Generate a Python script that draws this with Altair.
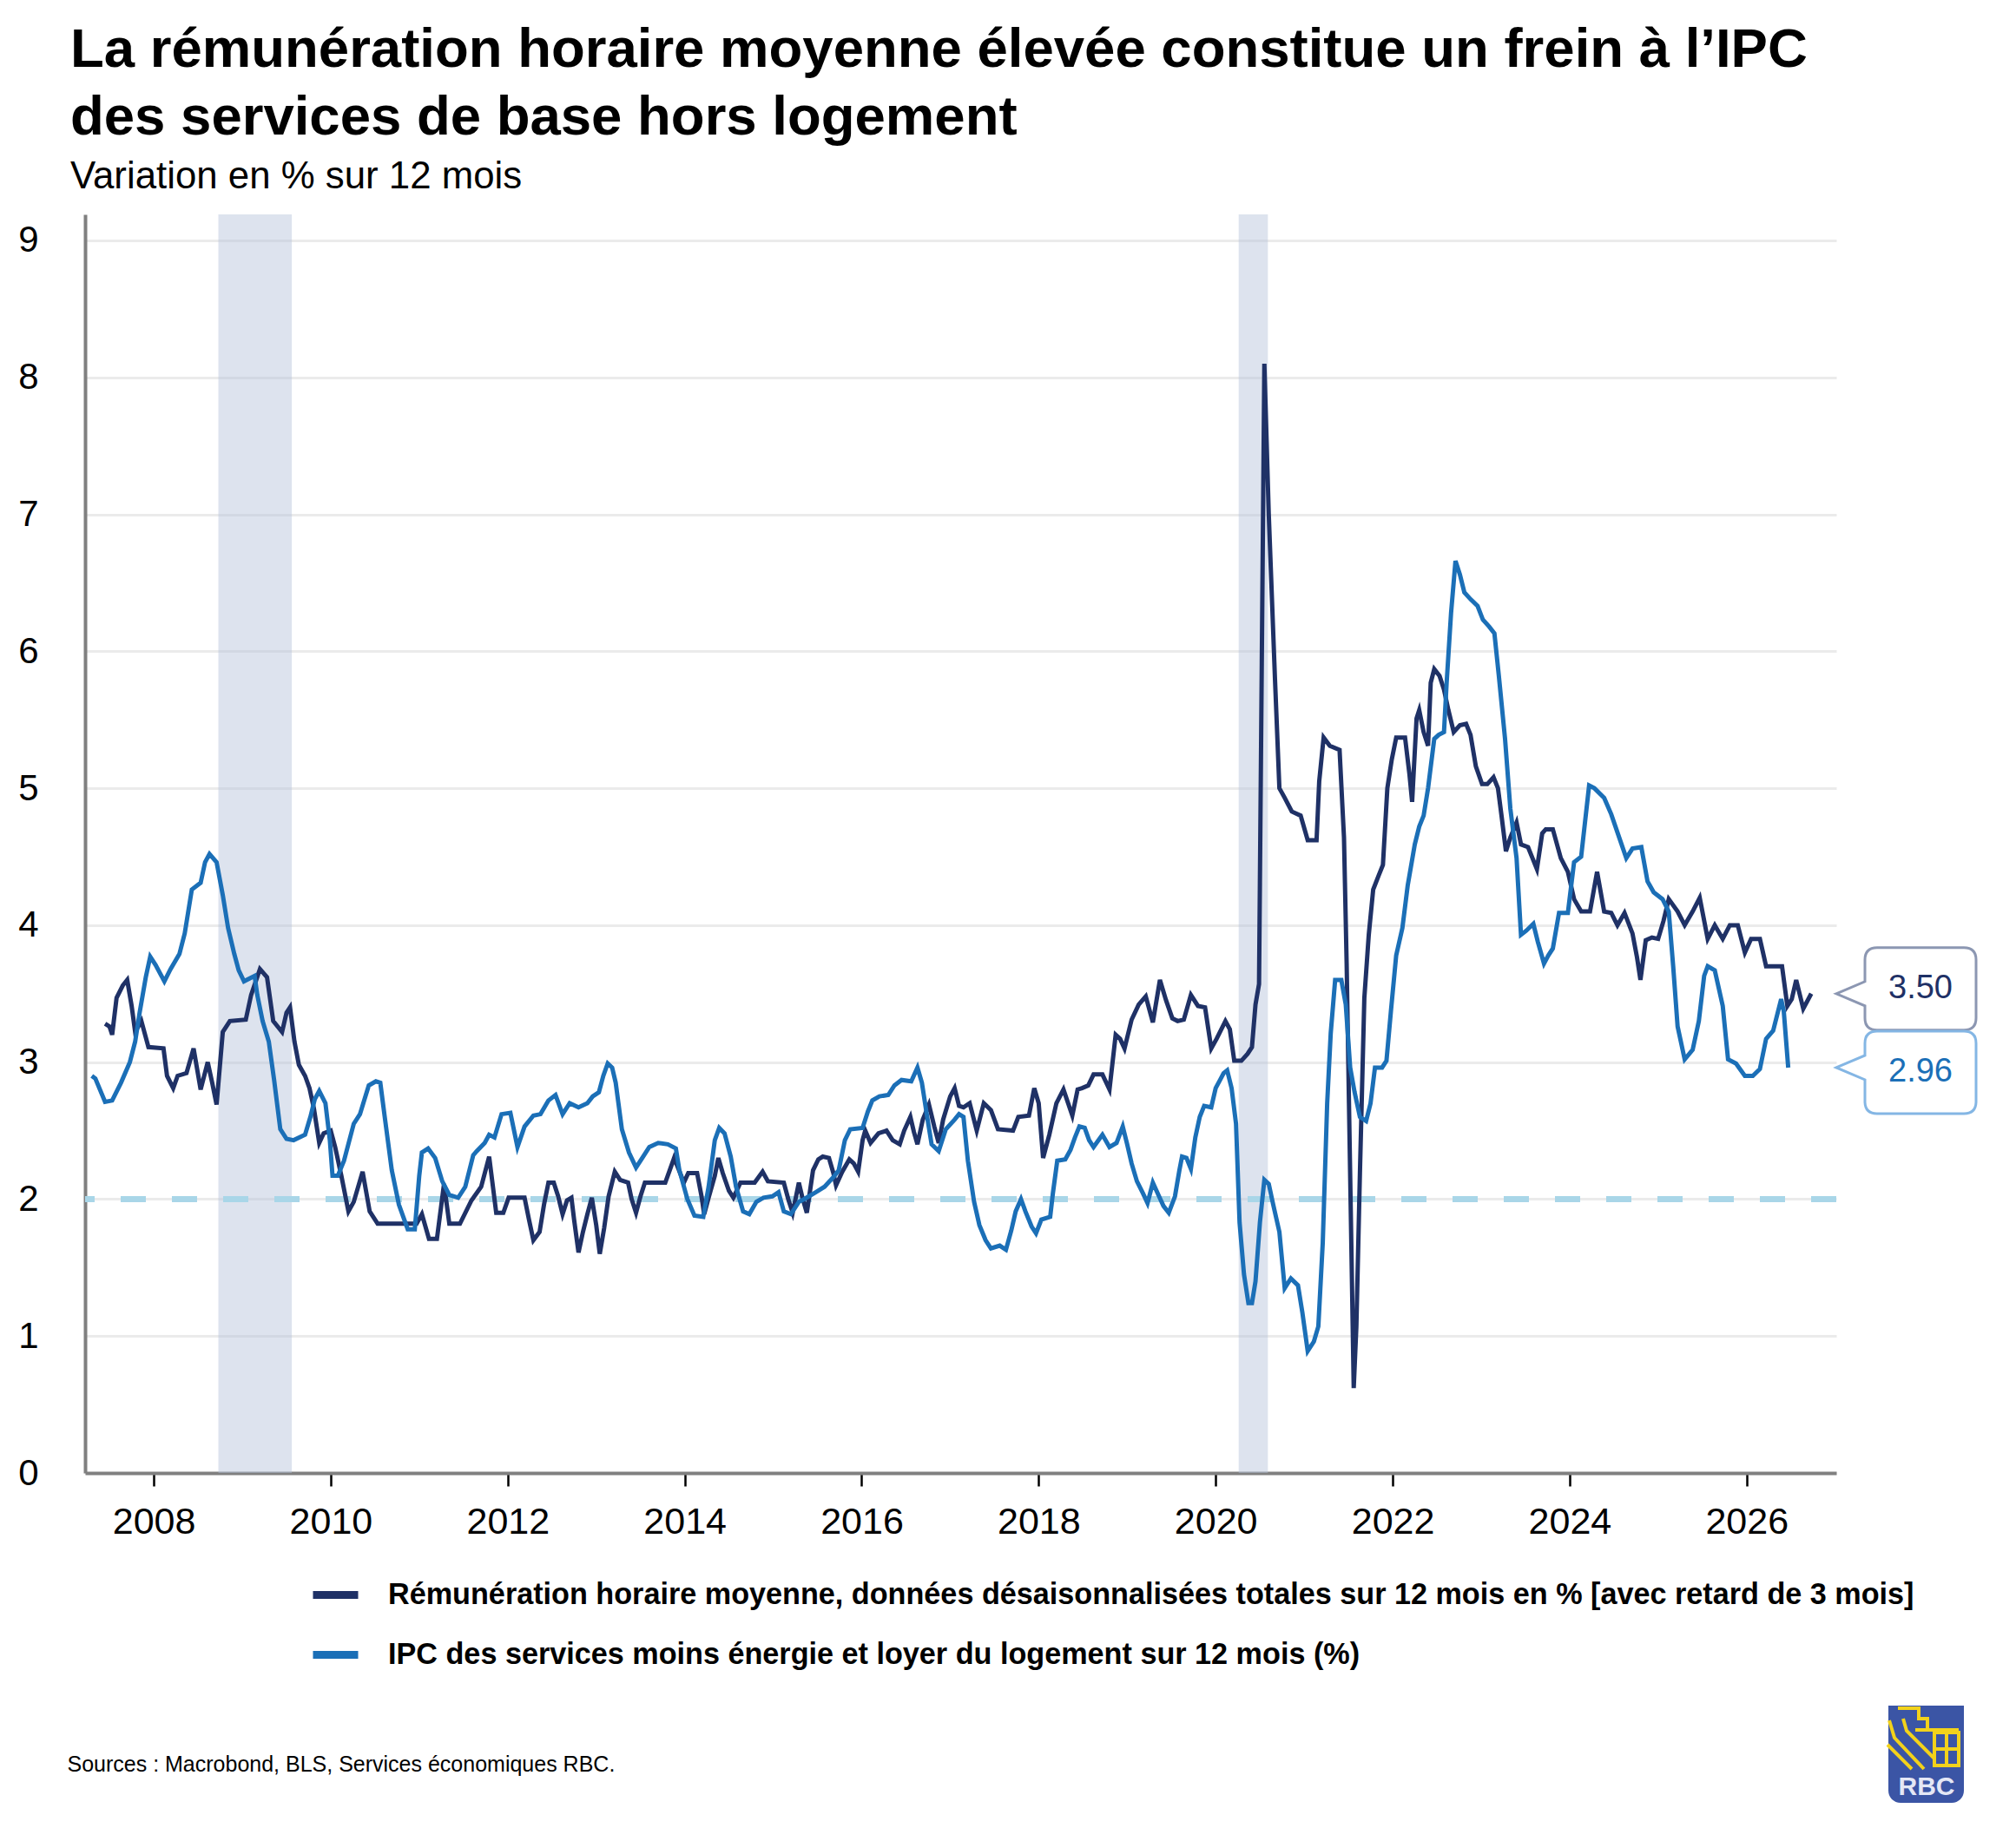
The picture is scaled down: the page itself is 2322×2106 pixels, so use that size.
import altair as alt
import pandas as pd

# %%
# values (decimal years, % y/y)
wage_t = [2007.45, 2007.50, 2007.53, 2007.58, 2007.65, 2007.70, 2007.75, 2007.79, 2007.86, 2007.94,
          2008.11, 2008.15, 2008.22, 2008.27, 2008.37, 2008.45, 2008.53, 2008.61, 2008.66, 2008.71,
          2008.78, 2008.86, 2009.04, 2009.10, 2009.20, 2009.28, 2009.35, 2009.45, 2009.50, 2009.54,
          2009.59, 2009.64, 2009.71, 2009.76, 2009.81, 2009.87, 2009.92, 2010.00, 2010.05, 2010.12,
          2010.20, 2010.26, 2010.36, 2010.44, 2010.53, 2010.97, 2011.03, 2011.11, 2011.20, 2011.28,
          2011.34, 2011.46, 2011.59, 2011.70, 2011.79, 2011.87, 2011.95, 2012.01, 2012.19, 2012.24,
          2012.29, 2012.36, 2012.41, 2012.46, 2012.52, 2012.57, 2012.62, 2012.67, 2012.72, 2012.75,
          2012.80, 2012.85, 2012.90, 2012.95, 2013.00, 2013.04, 2013.09, 2013.14, 2013.21, 2013.27,
          2013.36, 2013.40, 2013.45, 2013.50, 2013.55, 2013.78, 2013.83, 2013.88, 2013.93, 2013.99,
          2014.04, 2014.14, 2014.19, 2014.22, 2014.27, 2014.34, 2014.38, 2014.43, 2014.50, 2014.55,
          2014.63, 2014.79, 2014.88, 2014.94, 2015.12, 2015.17, 2015.22, 2015.29, 2015.33, 2015.38,
          2015.45, 2015.51, 2015.56, 2015.63, 2015.68, 2015.71, 2015.78, 2015.86, 2015.91, 2015.96,
          2016.01, 2016.04, 2016.10, 2016.19, 2016.28, 2016.35, 2016.43, 2016.48, 2016.55, 2016.59,
          2016.63, 2016.69, 2016.76, 2016.82, 2016.87, 2016.92, 2017.00, 2017.05, 2017.10, 2017.15,
          2017.22, 2017.30, 2017.38, 2017.46, 2017.54, 2017.71, 2017.77, 2017.89, 2017.95, 2018.00,
          2018.05, 2018.12, 2018.20, 2018.28, 2018.38, 2018.44, 2018.49, 2018.56, 2018.62, 2018.72,
          2018.80, 2018.87, 2018.92, 2018.97, 2019.05, 2019.13, 2019.21, 2019.29, 2019.37, 2019.44,
          2019.51, 2019.57, 2019.64, 2019.72, 2019.80, 2019.88, 2019.95, 2020.01, 2020.11, 2020.16,
          2020.21, 2020.29, 2020.36, 2020.41, 2020.45, 2020.49, 2020.55, 2020.60, 2020.67, 2020.72,
          2020.78, 2020.86, 2020.96, 2021.04, 2021.14, 2021.17, 2021.22, 2021.29, 2021.40, 2021.45,
          2021.48, 2021.56, 2021.59, 2021.63, 2021.68, 2021.73, 2021.78, 2021.84, 2021.89, 2021.94,
          2021.99, 2022.04, 2022.14, 2022.19, 2022.22, 2022.27, 2022.30, 2022.35, 2022.40, 2022.43,
          2022.47, 2022.53, 2022.58, 2022.63, 2022.69, 2022.76, 2022.83, 2022.88, 2022.94, 2023.01,
          2023.07, 2023.14, 2023.19, 2023.23, 2023.28, 2023.33, 2023.40, 2023.45, 2023.53, 2023.58,
          2023.63, 2023.69, 2023.73, 2023.81, 2023.90, 2023.98, 2024.05, 2024.13, 2024.23, 2024.31,
          2024.39, 2024.47, 2024.54, 2024.62, 2024.71, 2024.76, 2024.80, 2024.86, 2024.93, 2025.00,
          2025.06, 2025.12, 2025.22, 2025.30, 2025.39, 2025.47, 2025.56, 2025.64, 2025.73, 2025.81,
          2025.90, 2025.98, 2026.05, 2026.15, 2026.22, 2026.40, 2026.46, 2026.51, 2026.56, 2026.64,
          2026.73]
wage_v = [3.28, 3.26, 3.20, 3.47, 3.56, 3.60, 3.41, 3.22, 3.30, 3.11,
          3.10, 2.90, 2.81, 2.90, 2.92, 3.10, 2.80, 3.00, 2.85, 2.69,
          3.22, 3.30, 3.31, 3.49, 3.68, 3.62, 3.30, 3.22, 3.36, 3.40,
          3.15, 2.98, 2.90, 2.81, 2.66, 2.41, 2.48, 2.50, 2.38, 2.17,
          1.91, 1.98, 2.20, 1.91, 1.82, 1.82, 1.89, 1.71, 1.71, 2.11,
          1.82, 1.82, 1.99, 2.09, 2.31, 1.90, 1.90, 2.01, 2.01, 1.85,
          1.70, 1.76, 1.96, 2.12, 2.12, 2.02, 1.89, 1.99, 2.01, 1.85,
          1.61, 1.76, 1.89, 2.01, 1.81, 1.60, 1.79, 2.02, 2.20, 2.14,
          2.12, 2.00, 1.90, 2.02, 2.12, 2.12, 2.21, 2.30, 2.22, 2.12,
          2.19, 2.19, 2.02, 1.89, 2.01, 2.17, 2.30, 2.19, 2.06, 2.01,
          2.12, 2.12, 2.20, 2.13, 2.12, 2.00, 1.90, 2.12, 2.01, 1.90,
          2.21, 2.29, 2.31, 2.30, 2.19, 2.10, 2.20, 2.29, 2.26, 2.20,
          2.43, 2.50, 2.41, 2.48, 2.50, 2.43, 2.40, 2.50, 2.60, 2.49,
          2.40, 2.58, 2.69, 2.53, 2.41, 2.58, 2.75, 2.81, 2.68, 2.67,
          2.70, 2.50, 2.70, 2.65, 2.51, 2.50, 2.60, 2.61, 2.81, 2.70,
          2.30, 2.47, 2.70, 2.80, 2.61, 2.80, 2.81, 2.83, 2.91, 2.91,
          2.80, 3.20, 3.17, 3.10, 3.31, 3.42, 3.48, 3.29, 3.60, 3.45,
          3.32, 3.30, 3.31, 3.49, 3.41, 3.40, 3.10, 3.17, 3.30, 3.24,
          3.01, 3.01, 3.06, 3.11, 3.42, 3.57, 8.10, 7.00, 5.80, 5.00,
          4.93, 4.83, 4.80, 4.62, 4.62, 5.05, 5.37, 5.31, 5.28, 4.64,
          3.72, 0.62, 1.07, 2.19, 3.47, 3.93, 4.26, 4.36, 4.44, 5.00,
          5.21, 5.37, 5.37, 5.10, 4.90, 5.51, 5.57, 5.41, 5.31, 5.77,
          5.87, 5.82, 5.72, 5.57, 5.41, 5.46, 5.47, 5.39, 5.16, 5.03,
          5.03, 5.08, 5.00, 4.80, 4.54, 4.64, 4.75, 4.59, 4.57, 4.49,
          4.41, 4.67, 4.70, 4.70, 4.49, 4.39, 4.19, 4.10, 4.10, 4.39,
          4.10, 4.09, 4.00, 4.09, 3.94, 3.77, 3.60, 3.89, 3.91, 3.90,
          4.03, 4.19, 4.10, 4.00, 4.10, 4.20, 3.90, 4.00, 3.90, 4.00,
          4.00, 3.80, 3.90, 3.90, 3.70, 3.70, 3.41, 3.46, 3.60, 3.39,
          3.50]

cpi_t = [2007.30, 2007.34, 2007.45, 2007.53, 2007.63, 2007.73, 2007.79, 2007.84, 2007.91, 2007.96,
         2008.02, 2008.12, 2008.19, 2008.29, 2008.35, 2008.43, 2008.53, 2008.58, 2008.63, 2008.71,
         2008.78, 2008.84, 2008.91, 2008.96, 2009.02, 2009.14, 2009.17, 2009.23, 2009.30, 2009.36,
         2009.43, 2009.50, 2009.58, 2009.71, 2009.77, 2009.82, 2009.87, 2009.94, 2009.99, 2010.02,
         2010.08, 2010.15, 2010.26, 2010.33, 2010.43, 2010.51, 2010.56, 2010.61, 2010.69, 2010.77,
         2010.87, 2010.95, 2011.00, 2011.03, 2011.10, 2011.18, 2011.26, 2011.34, 2011.44, 2011.52,
         2011.61, 2011.65, 2011.74, 2011.79, 2011.85, 2011.93, 2012.03, 2012.11, 2012.19, 2012.29,
         2012.37, 2012.46, 2012.54, 2012.62, 2012.70, 2012.80, 2012.90, 2012.96, 2013.03, 2013.08,
         2013.13, 2013.18, 2013.22, 2013.29, 2013.37, 2013.45, 2013.52, 2013.60, 2013.70, 2013.81,
         2013.90, 2013.94, 2014.03, 2014.11, 2014.21, 2014.27, 2014.34, 2014.39, 2014.45, 2014.52,
         2014.58, 2014.66, 2014.73, 2014.81, 2014.89, 2014.99, 2015.06, 2015.12, 2015.20, 2015.29,
         2015.35, 2015.48, 2015.58, 2015.68, 2015.74, 2015.81, 2015.87, 2016.01, 2016.07, 2016.12,
         2016.20, 2016.30, 2016.37, 2016.45, 2016.56, 2016.63, 2016.68, 2016.74, 2016.79, 2016.87,
         2016.95, 2017.05, 2017.10, 2017.15, 2017.20, 2017.27, 2017.33, 2017.40, 2017.46, 2017.56,
         2017.63, 2017.69, 2017.74, 2017.80, 2017.85, 2017.92, 2017.97, 2018.03, 2018.13, 2018.16,
         2018.21, 2018.30, 2018.36, 2018.41, 2018.46, 2018.52, 2018.57, 2018.62, 2018.72, 2018.80,
         2018.88, 2018.95, 2019.00, 2019.05, 2019.11, 2019.18, 2019.23, 2019.29, 2019.36, 2019.41,
         2019.47, 2019.54, 2019.59, 2019.62, 2019.67, 2019.72, 2019.77, 2019.82, 2019.87, 2019.95,
         2020.00, 2020.05, 2020.09, 2020.13, 2020.18, 2020.23, 2020.27, 2020.32, 2020.37, 2020.41,
         2020.45, 2020.50, 2020.55, 2020.60, 2020.65, 2020.72, 2020.78, 2020.85, 2020.93, 2020.98,
         2021.04, 2021.11, 2021.16, 2021.21, 2021.26, 2021.30, 2021.35, 2021.42, 2021.47, 2021.52,
         2021.57, 2021.63, 2021.70, 2021.75, 2021.80, 2021.88, 2021.93, 2021.98, 2022.04, 2022.11,
         2022.17, 2022.25, 2022.30, 2022.35, 2022.40, 2022.47, 2022.52, 2022.58, 2022.61, 2022.66,
         2022.71, 2022.76, 2022.81, 2022.88, 2022.96, 2023.02, 2023.09, 2023.15, 2023.20, 2023.27,
         2023.33, 2023.40, 2023.45, 2023.51, 2023.59, 2023.64, 2023.71, 2023.76, 2023.81, 2023.88,
         2023.98, 2024.05, 2024.13, 2024.22, 2024.28, 2024.39, 2024.47, 2024.56, 2024.64, 2024.71,
         2024.81, 2024.88, 2024.95, 2025.05, 2025.12, 2025.17, 2025.22, 2025.30, 2025.39, 2025.46,
         2025.52, 2025.56, 2025.64, 2025.73, 2025.79, 2025.88, 2025.98, 2026.07, 2026.15, 2026.22,
         2026.30, 2026.39, 2026.42, 2026.47]
cpi_v = [2.90, 2.88, 2.71, 2.72, 2.85, 3.00, 3.15, 3.36, 3.62, 3.77,
         3.71, 3.59, 3.68, 3.79, 3.94, 4.26, 4.31, 4.46, 4.52, 4.46,
         4.22, 3.98, 3.79, 3.67, 3.59, 3.63, 3.49, 3.30, 3.15, 2.87,
         2.51, 2.44, 2.43, 2.47, 2.60, 2.73, 2.79, 2.70, 2.43, 2.17,
         2.17, 2.28, 2.55, 2.62, 2.83, 2.86, 2.85, 2.60, 2.21, 1.96,
         1.78, 1.78, 2.17, 2.34, 2.37, 2.30, 2.13, 2.03, 2.01, 2.09,
         2.32, 2.35, 2.41, 2.47, 2.45, 2.62, 2.63, 2.38, 2.53, 2.61,
         2.62, 2.72, 2.76, 2.62, 2.70, 2.67, 2.70, 2.75, 2.78, 2.90,
         2.99, 2.96, 2.85, 2.51, 2.34, 2.23, 2.30, 2.38, 2.41, 2.40,
         2.37, 2.21, 2.00, 1.88, 1.87, 2.09, 2.43, 2.52, 2.48, 2.31,
         2.09, 1.91, 1.89, 1.98, 2.01, 2.02, 2.05, 1.91, 1.89, 1.98,
         2.00, 2.05, 2.09, 2.16, 2.21, 2.43, 2.51, 2.52, 2.64, 2.72,
         2.75, 2.76, 2.83, 2.87, 2.86, 2.96, 2.85, 2.60, 2.40, 2.35,
         2.51, 2.58, 2.62, 2.60, 2.28, 1.98, 1.81, 1.70, 1.64, 1.66,
         1.63, 1.77, 1.91, 2.00, 1.91, 1.80, 1.75, 1.85, 1.87, 2.04,
         2.28, 2.29, 2.36, 2.45, 2.53, 2.52, 2.43, 2.38, 2.47, 2.38,
         2.41, 2.53, 2.40, 2.26, 2.13, 2.04, 1.97, 2.12, 2.02, 1.95,
         1.90, 2.02, 2.21, 2.31, 2.30, 2.22, 2.45, 2.60, 2.68, 2.67,
         2.81, 2.87, 2.92, 2.94, 2.81, 2.55, 1.83, 1.45, 1.24, 1.24,
         1.40, 1.83, 2.14, 2.11, 1.96, 1.76, 1.35, 1.42, 1.37, 1.17,
         0.89, 0.96, 1.07, 1.68, 2.70, 3.21, 3.60, 3.60, 3.42, 2.96,
         2.78, 2.60, 2.57, 2.70, 2.96, 2.96, 3.01, 3.37, 3.78, 3.98,
         4.29, 4.59, 4.72, 4.80, 5.00, 5.36, 5.39, 5.41, 5.77, 6.28,
         6.66, 6.56, 6.43, 6.38, 6.33, 6.23, 6.18, 6.13, 5.82, 5.36,
         4.85, 4.49, 3.93, 3.96, 4.01, 3.88, 3.72, 3.78, 3.83, 4.09,
         4.09, 4.46, 4.50, 5.02, 5.00, 4.93, 4.81, 4.64, 4.49, 4.56,
         4.57, 4.32, 4.24, 4.19, 4.10, 3.70, 3.26, 3.02, 3.09, 3.30,
         3.63, 3.70, 3.67, 3.41, 3.02, 2.99, 2.90, 2.90, 2.95, 3.17,
         3.23, 3.46, 3.37, 2.96]

WAGE = "Rémunération horaire moyenne, données désaisonnalisées totales sur 12 mois en % [avec retard de 3 mois]"
CPI = "IPC des services moins énergie et loyer du logement sur 12 mois (%)"

# shaded recessions
rec_start = [2008.73, 2020.26]
rec_end = [2009.56, 2020.59]

# latest values shown in the boxes on the right
end_text = ["3.50", "2.96"]
end_value = [3.50, 2.96]

year_ticks = [2008, 2010, 2012, 2014, 2016, 2018, 2020, 2022, 2024, 2026]
pct_ticks = [0, 1, 2, 3, 4, 5, 6, 7, 8, 9]
target = [2.0]

X_MIN, X_MAX = 2007.224, 2027.013
Y_MAX = 9.19

NAVY = "#1f3166"
BLUE = "#1b6fb7"
FONT = "Liberation Sans"

# %%
lines_df = pd.concat([
    pd.DataFrame({"t": wage_t, "v": wage_v, "series": WAGE}),
    pd.DataFrame({"t": cpi_t, "v": cpi_v, "series": CPI}),
])
rec_df = pd.DataFrame({"start": rec_start, "end": rec_end})

x_scale = alt.Scale(domain=[X_MIN, X_MAX], nice=False, zero=False)
y_scale = alt.Scale(domain=[0, Y_MAX], nice=False)

x_axis = alt.Axis(values=year_ticks, format="d", grid=False,
                  title="Sources : Macrobond, BLS, Services économiques RBC.",
                  titleAnchor="start", titleAlign="left", titleBaseline="alphabetic",
                  titleX=-21, titleY=343, titleFontSize=25, titleFontWeight="normal",
                  titleFont=FONT, titleColor="#000000")
y_axis = alt.Axis(values=pct_ticks, title=None, grid=True, ticks=False, tickSize=0)

bands = alt.Chart(rec_df).mark_rect(color="#b3c2d9", opacity=0.45).encode(
    x=alt.X("start:Q", scale=x_scale, axis=x_axis),
    x2="end:Q",
)

two_pct = alt.Chart(pd.DataFrame({"v": target})).mark_rule(
    color="#a9d6e8", strokeWidth=7, strokeDash=[29, 30]
).encode(y=alt.Y("v:Q", scale=y_scale, axis=y_axis))

lines = alt.Chart(lines_df).mark_line(strokeWidth=5).encode(
    x=alt.X("t:Q", scale=x_scale, axis=x_axis),
    y=alt.Y("v:Q", scale=y_scale, axis=y_axis),
    color=alt.Color("series:N",
                    scale=alt.Scale(domain=[WAGE, CPI], range=[NAVY, BLUE]),
                    legend=alt.Legend(title=None, orient="none", legendX=258, legendY=1560,
                                      direction="vertical", padding=0,
                                      symbolType="stroke", symbolSize=2704, symbolStrokeWidth=9,
                                      labelFont=FONT, labelFontSize=34.2, labelFontWeight="bold",
                                      labelColor="#000000", labelLimit=2000, labelOffset=30,
                                      rowPadding=20)),
    order="t:Q",
)

# callout boxes: pointer tip sits on the right edge at the latest value
box_paths = [
    "M0,0 L33,-14 L33,-39 Q33,-53 47,-53 L147,-53 Q161,-53 161,-39 L161,28 Q161,42 147,42 "
    "L47,42 Q33,42 33,28 L33,14 Z",
    "M0,0 L33,-14 L33,-28 Q33,-42 47,-42 L147,-42 Q161,-42 161,-28 L161,39 Q161,53 147,53 "
    "L47,53 Q33,53 33,39 L33,14 Z",
]
box_strokes = ["#8c97b2", "#84b6e4"]
text_colors = [NAVY, BLUE]
text_dy = [-6, 5]

callouts = []
for txt, val, path, stroke, fg, dy in zip(end_text, end_value, box_paths, box_strokes, text_colors, text_dy):
    df = pd.DataFrame({"t": [X_MAX], "v": [val]})
    enc = dict(x=alt.X("t:Q", scale=x_scale, axis=x_axis), y=alt.Y("v:Q", scale=y_scale, axis=y_axis))
    callouts.append(alt.Chart(df).mark_point(shape=path, size=4, filled=True, fill="white",
                                             stroke=stroke, strokeWidth=3, opacity=1).encode(**enc))
    callouts.append(alt.Chart(df).mark_text(text=txt, dx=97, dy=dy, fontSize=38, font=FONT,
                                            color=fg, align="center", baseline="middle").encode(**enc))

# RBC logo, bottom right: blue shield, yellow lion-and-globe crest, RBC lettering
lion = ("M-30,-36 L-6,-36 L-6,-24 L4,-24 L4,-10 M-10,-11 L40,-11 "
        "M-40,-22 L-34,-2 L0,34 M-42,6 L-14,34 M-24,-24 L-20,-10 L12,22 "
        "M12,-8 L40,-8 L40,30 L12,30 Z M12,11 L40,11 M26,-8 L26,30")
logo_df = pd.DataFrame({"a": [0]})
logo = [
    alt.Chart(logo_df).mark_rect(color="#3b55a5", cornerRadiusBottomLeft=14,
                                 cornerRadiusBottomRight=14).encode(
        x=alt.value(2077), x2=alt.value(2164), y=alt.value(1718), y2=alt.value(1830)),
    alt.Chart(logo_df).mark_point(shape=lion, size=4, filled=False, stroke="#f2d21b",
                                  strokeWidth=4, opacity=1).encode(
        x=alt.value(2118), y=alt.value(1757)),
    alt.Chart(logo_df).mark_text(text="RBC", font=FONT, fontSize=30, fontWeight="bold", color="#e4e7f5",
                                 align="center", baseline="alphabetic").encode(
        x=alt.value(2121), y=alt.value(1821)),
]

chart = alt.layer(bands, two_pct, lines, *callouts, *logo).properties(
    width=2017,
    height=1450,
    padding={"left": 90, "top": 239, "right": 180, "bottom": 395},
    autosize=alt.AutoSizeParams(type="none"),
    background="white",
    title=alt.TitleParams(
        text=["La rémunération horaire moyenne élevée constitue un frein à l’IPC",
              "des services de base hors logement"],
        subtitle="Variation en % sur 12 mois",
        anchor="start", frame="group", dx=-17, offset=20,
        font=FONT, fontSize=63.5, fontWeight="bold", color="#000000", lineHeight=78,
        subtitleFont=FONT, subtitleFontSize=43.8, subtitleColor="#000000",
        subtitleFontWeight="normal", subtitlePadding=14,
    ),
).configure_axis(
    labelFont=FONT, labelColor="#000000", domainColor="#808080", domainWidth=4,
    gridColor="#ebebeb", gridWidth=3,
).configure_axisX(
    labelFontSize=43, labelPadding=20, tickColor="#000000", tickWidth=2.5, tickSize=15,
).configure_axisY(
    labelFontSize=42, labelPadding=54,
).configure_view(strokeWidth=0)

chart.save("out.html", embed_options={"renderer": "svg", "actions": False})
